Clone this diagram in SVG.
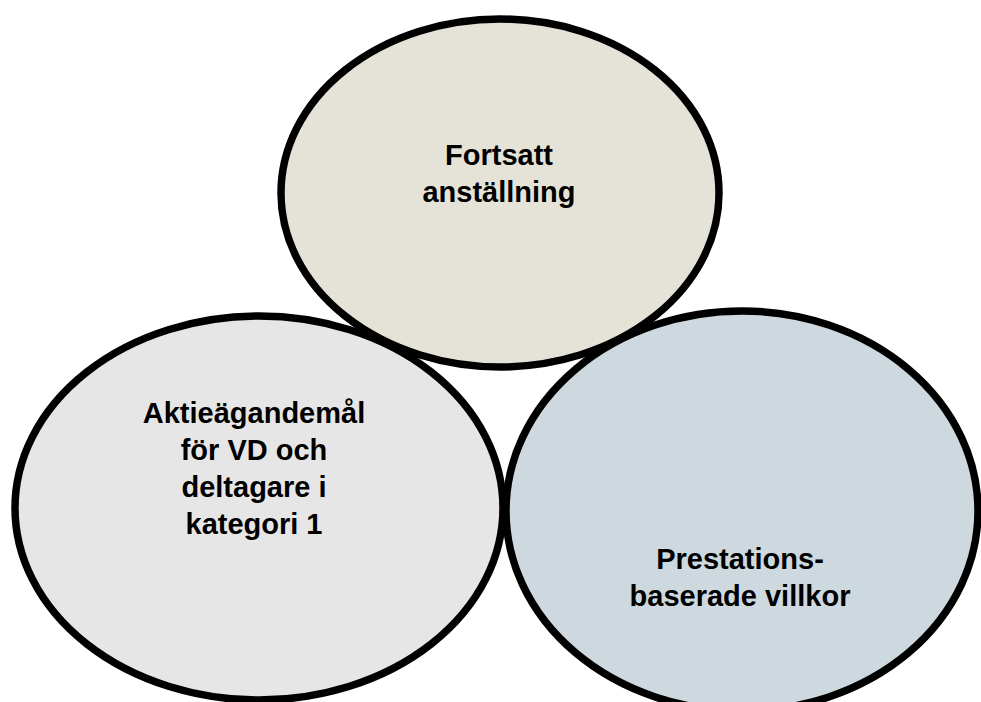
<svg xmlns="http://www.w3.org/2000/svg" width="981" height="702" viewBox="0 0 981 702">
<style>
.e{stroke:#000;stroke-width:7.5}
.t{font-family:"Liberation Sans",Arial,sans-serif;font-weight:bold;font-size:29px;fill:#000;text-anchor:middle}
</style>
<rect width="981" height="702" fill="#fff"/>
<g id="node-top">
<ellipse class="e" cx="500" cy="193" rx="219" ry="174" fill="#E5E3D7"/>
<text class="t" x="499" y="165">Fortsatt</text>
<text class="t" x="499" y="202">anställning</text>
</g>
<g id="node-left">
<ellipse class="e" cx="259" cy="508" rx="244" ry="192" fill="#E6E6E6"/>
<text class="t" x="254" y="423">Aktieägandemål</text>
<text class="t" x="254" y="460">för VD och</text>
<text class="t" x="254" y="497">deltagare i</text>
<text class="t" x="254" y="534">kategori 1</text>
</g>
<g id="node-right">
<ellipse class="e" cx="742" cy="511" rx="236" ry="200" fill="#CDD8DF"/>
<text class="t" x="740" y="569">Prestations-</text>
<text class="t" x="740" y="606">baserade villkor</text>
</g>
<g id="connectors"/>
</svg>
